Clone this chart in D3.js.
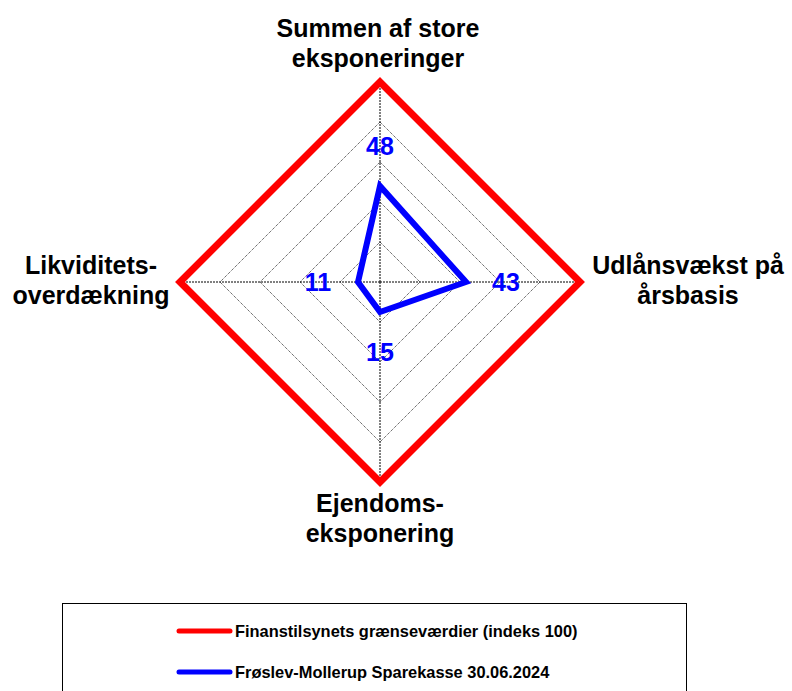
<!DOCTYPE html>
<html>
<head>
<meta charset="utf-8">
<script src="https://cdn.jsdelivr.net/npm/d3@7"></script>
<style>
  body { margin: 0; background: #fff; }
  text { font-family: "Liberation Sans", Arial, sans-serif; font-weight: bold; }
</style>
</head>
<body>
<div id="chart"></div>
<script>
// axes, clockwise from top
var axes = [
  ["Summen af store", "eksponeringer"],
  ["Udlånsvækst på", "årsbasis"],
  ["Ejendoms-", "eksponering"],
  ["Likviditets-", "overdækning"]
];
var limitValues = [100, 100, 100, 100];
var bankValues = [48, 43, 15, 11];
var gridLevels = [20, 40, 60, 80];
var seriesNames = ["Finanstilsynets grænseværdier (indeks 100)", "Frøslev-Mollerup Sparekasse 30.06.2024"];
var seriesColors = ["#ff0000", "#0000ff"];

var width = 792, height = 691;
var cx = 380, cy = 282;

var svg = d3.select("#chart").append("svg")
  .attr("width", width)
  .attr("height", height);

var r = d3.scaleLinear().domain([0, 100]).range([0, 200]);
var angle = d3.scaleLinear().domain([0, axes.length]).range([0, 2 * Math.PI]);

function pt(i, v) {
  var a = angle(i);
  return [cx + r(v) * Math.sin(a), cy - r(v) * Math.cos(a)];
}

var line = d3.line().curve(d3.curveLinearClosed);

// grid diamonds
svg.selectAll(".grid")
  .data(gridLevels)
  .enter()
  .append("path")
  .attr("d", lv => line(axes.map((d, i) => pt(i, lv))))
  .attr("fill", "none")
  .attr("stroke", "#000")
  .attr("stroke-width", 0.8)
  .attr("stroke-dasharray", "1,1");

// axis spokes
svg.selectAll(".spoke")
  .data(axes)
  .enter()
  .append("line")
  .attr("x1", cx).attr("y1", cy)
  .attr("x2", (d, i) => pt(i, 100)[0])
  .attr("y2", (d, i) => pt(i, 100)[1])
  .attr("stroke", "#000")
  .attr("stroke-width", 1)
  .attr("stroke-dasharray", "2,1");

// series
[limitValues, bankValues].forEach(function (vals, k) {
  svg.append("path")
    .attr("d", line(vals.map((v, i) => pt(i, v))))
    .attr("fill", "none")
    .attr("stroke", seriesColors[k])
    .attr("stroke-width", k == 0 ? 7 : 6)
    .attr("stroke-linejoin", "miter");
});

// value labels
svg.selectAll(".val")
  .data(bankValues)
  .enter()
  .append("text")
  .attr("x", (d, i) => pt(i, d + 20)[0])
  .attr("y", (d, i) => pt(i, d + 20)[1])
  .attr("dy", "0.36em")
  .attr("text-anchor", "middle")
  .attr("fill", "#0000ff")
  .style("font-size", "25px")
  .text(d => d);

// axis labels
var labelPos = [[378, 37], [688, 274], [380, 512], [91, 274]];
axes.forEach(function (lines, i) {
  var t = svg.append("text")
    .attr("text-anchor", "middle")
    .attr("fill", "#000")
    .style("font-size", "25px");
  lines.forEach(function (s, j) {
    t.append("tspan")
      .attr("x", labelPos[i][0])
      .attr("y", labelPos[i][1] + j * 30)
      .text(s);
  });
});

// legend
svg.append("rect")
  .attr("x", 62.5).attr("y", 603.5)
  .attr("width", 624).attr("height", 120)
  .attr("fill", "none")
  .attr("stroke", "#000")
  .attr("stroke-width", 1);

var leg = svg.selectAll(".leg")
  .data(seriesNames)
  .enter()
  .append("g")
  .attr("transform", (d, i) => `translate(0, ${631 + i * 41})`);

leg.append("line")
  .attr("x1", 179).attr("x2", 230)
  .attr("y1", 0).attr("y2", 0)
  .attr("stroke", (d, i) => seriesColors[i])
  .attr("stroke-width", 5)
  .attr("stroke-linecap", "round");

leg.append("text")
  .attr("x", 235)
  .attr("dy", "0.35em")
  .style("font-size", "16.4px")
  .text(d => d);
</script>
</body>
</html>
